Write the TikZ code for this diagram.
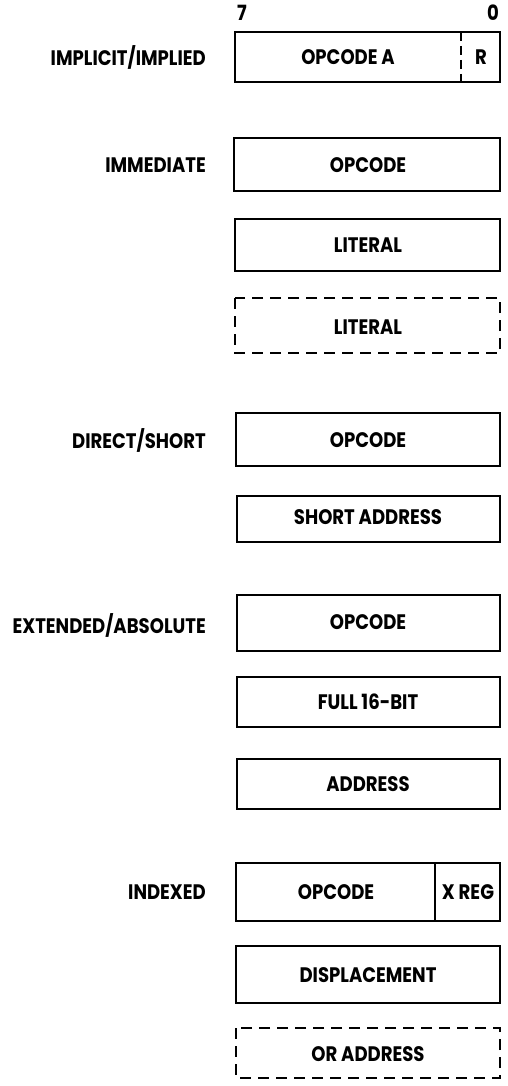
\documentclass[tikz,border=0pt]{standalone}
\usepackage{fontspec}
\setmainfont{Poppins}[FakeStretch=0.86]
\begin{document}
\begin{tikzpicture}[x=1pt,y=-1pt,
  lbl/.style={anchor=east,font=\fontsize{21}{24}\selectfont\bfseries,inner sep=0pt},
  txt/.style={font=\fontsize{21}{24}\selectfont\bfseries,inner sep=0pt},
  solidbox/.style={draw,line width=2.9pt},
  dashbox/.style={draw,line width=2.9pt,dash pattern=on 11pt off 7pt},
  bit/.style={font=\fontsize{21}{24}\selectfont\bfseries,inner sep=0pt}]
\useasboundingbox (0,0) rectangle (507,1086);
% row 1
\node[bit] (b7) at (242,13) {7};
\node[bit] (b0) at (493,13) {0};
\draw[solidbox] (235,32) -- (235,82) -- (500,82) -- (500,32) -- cycle;
\draw[line width=2.5pt,dash pattern=on 9pt off 5pt] (461,32) -- (461,82);
\node[txt] (opa) at (348,57) {OPCODE A};
\node[txt] (r) at (481,57) {R};
\node[lbl] (l1) at (206,57) {IMPLICIT/IMPLIED};
% immediate
\node[lbl] (l2) at (206,165) {IMMEDIATE};
\draw[solidbox] (234,138) rectangle (500,191);
\node[txt] (o2) at (368,165) {OPCODE};
\draw[solidbox] (235,219) rectangle (500,271);
\node[txt] (lit1) at (368,245) {LITERAL};
\draw[dashbox] (235,298) rectangle (500,353);
\node[txt] (lit2) at (368,327) {LITERAL};
% direct
\node[lbl] (l3) at (206,440) {DIRECT/SHORT};
\draw[solidbox] (236,413) rectangle (500,466);
\node[txt] (o3) at (368,440) {OPCODE};
\draw[solidbox] (237,496) rectangle (500,542);
\node[txt] (sa) at (368,517) {SHORT ADDRESS};
% extended
\node[lbl] (l4) at (206,625) {EXTENDED/ABSOLUTE};
\draw[solidbox] (237,595) rectangle (500,651);
\node[txt] (o4) at (368,622) {OPCODE};
\draw[solidbox] (237,677) rectangle (500,727);
\node[txt] (f16) at (368,702) {FULL 16-BIT};
\draw[solidbox] (237,759) rectangle (500,809);
\node[txt] (ad) at (368,784) {ADDRESS};
% indexed
\node[lbl] (l5) at (206,892) {INDEXED};
\draw[solidbox] (236,863) rectangle (500,921);
\draw[line width=2.5pt] (435,863) -- (435,921);
\node[txt] (o5) at (336,892) {OPCODE};
\node[txt] (xr) at (468,892) {X REG};
\draw[solidbox] (236,946) rectangle (500,1003);
\node[txt] (dp) at (368,975) {DISPLACEMENT};
\draw[dashbox] (236,1028) rectangle (500,1078);
\node[txt] (oa) at (368,1054) {OR ADDRESS};
\end{tikzpicture}
\end{document}
